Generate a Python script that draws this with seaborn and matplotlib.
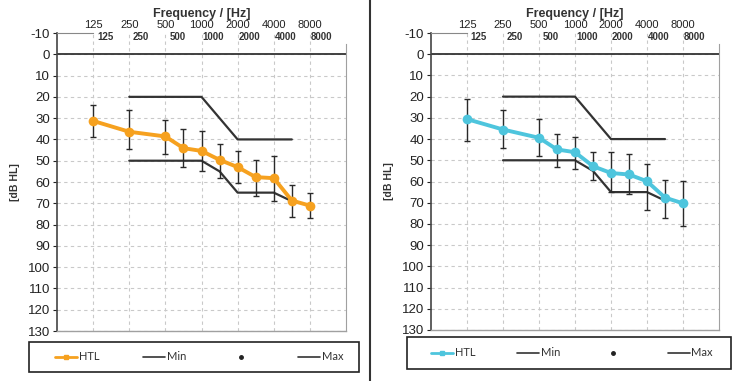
import numpy as np
import pandas as pd
import matplotlib
matplotlib.use("Agg")
import matplotlib.pyplot as plt
import seaborn as sns
from matplotlib.lines import Line2D
from matplotlib.patches import Rectangle

# ---------------- data ----------------
freqs = [125, 250, 500, 750, 1000, 1500, 2000, 3000, 4000, 6000, 8000]

htl_left = [31.3, 36.4, 38.6, 44.1, 45.4, 49.6, 53.0, 57.7, 58.2, 68.7, 71.1]
lo_left = [24.0, 26.0, 31.0, 35.2, 36.0, 42.0, 45.5, 49.6, 48.0, 61.2, 65.0]
hi_left = [39.0, 44.7, 46.8, 53.0, 54.8, 57.9, 60.7, 66.8, 68.9, 76.6, 76.9]

htl_right = [30.6, 35.5, 39.4, 44.9, 46.2, 52.8, 56.0, 56.7, 59.9, 67.6, 70.3]
lo_right = [21.0, 26.5, 30.5, 37.4, 39.0, 46.0, 46.0, 47.1, 51.7, 59.1, 59.7]
hi_right = [40.7, 44.3, 47.8, 53.1, 54.0, 59.4, 65.0, 65.7, 73.5, 77.2, 81.1]

min_freqs = [250, 500, 1000, 2000, 3000, 4000, 6000]
min_vals = [20, 20, 20, 40, 40, 40, 40]
max_freqs = [250, 500, 750, 1000, 1500, 2000, 3000, 4000, 6000]
max_vals = [50, 50, 50, 50, 55, 65, 65, 65, 69]

octave_ticks = [125, 250, 500, 1000, 2000, 4000, 8000]
y_ticks = list(range(-10, 131, 10))
legend_labels = ["HTL", "Min", "", "Max"]

ORANGE = "#F6A11F"
CYAN = "#4EC5DD"
DARK = "#333333"


def audio_pos(f):
    o = np.log2(np.asarray(f, float) / 125.0)
    r = np.round(o)
    return np.where(np.isclose(o, r), r, np.floor(o) + 0.5)


sns.set_style("white")
plt.rcParams["font.family"] = ["Liberation Sans", "DejaVu Sans"]

W, H = 740.0, 381.0
fig = plt.figure(figsize=(7.40, 3.81), dpi=100)


def panel(rect, htl, lo, hi, color, box_px, leg_px):
    ax = fig.add_axes(rect)
    x = audio_pos(freqs)
    htl = np.asarray(htl)
    lo = np.asarray(lo)
    hi = np.asarray(hi)

    df = pd.DataFrame({"x": x, "htl": htl})
    dmin = pd.DataFrame({"x": audio_pos(min_freqs), "v": min_vals})
    dmax = pd.DataFrame({"x": audio_pos(max_freqs), "v": max_vals})

    sns.lineplot(data=dmin, x="x", y="v", color=DARK, lw=1.6, ax=ax, zorder=2)
    sns.lineplot(data=dmax, x="x", y="v", color=DARK, lw=1.6, ax=ax, zorder=2)
    ax.errorbar(x, htl, yerr=[htl - lo, hi - htl], fmt="none", ecolor="#2a2a2a",
                elinewidth=1.0, capsize=2.5, capthick=1.0, zorder=3)
    sns.lineplot(data=df, x="x", y="htl", color=color, lw=2.8, marker="o",
                 markersize=7, markeredgewidth=0, ax=ax, zorder=4)

    ax.set_xlim(-1, 7)
    ax.set_ylim(130, -10)
    ax.set_yticks(y_ticks)
    ax.set_yticklabels([str(v) for v in y_ticks])
    tick_pos = audio_pos(octave_ticks)
    ax.set_xticks(tick_pos)
    ax.set_xticklabels([str(f) for f in octave_ticks])
    ax.tick_params(axis="x", top=True, labeltop=True, bottom=False,
                   labelbottom=False, length=0, pad=2, labelsize=8, colors="#222")
    ax.tick_params(axis="y", left=True, length=3, width=0.8, pad=2,
                   labelsize=9.5, colors="#222")
    ax.xaxis.set_label_position("top")
    ax.set_xlabel("Frequency / [Hz]", fontweight="bold", fontsize=9, labelpad=2,
                  color="#333")
    ax.set_ylabel("[dB HL]", fontweight="bold", fontsize=7.5, color="#333")
    ax.yaxis.set_label_coords(-0.128, 0.5)

    ax.grid(True, ls=(0, (3, 3)), color="#c9c9c9", lw=0.8)
    ax.get_ygridlines()[0].set_visible(False)
    ax.set_axisbelow(True)
    ax.axhline(0, color=DARK, lw=1.3, zorder=1.5)

    for s in ["left", "bottom", "right", "top"]:
        ax.spines[s].set_visible(True)
    ax.spines["left"].set_color("#444")
    ax.spines["left"].set_linewidth(1.2)
    ax.spines["bottom"].set_color("#a0a0a0")
    ax.spines["bottom"].set_linewidth(1.0)
    ax.spines["right"].set_color("#a0a0a0")
    ax.spines["right"].set_bounds(-5, 130)
    ax.spines["top"].set_color("#888")
    ax.spines["top"].set_bounds(-1, 0)

    for f, p in zip(octave_ticks, tick_pos):
        ax.text(p + 0.33, -8, str(f), fontsize=7, fontweight="bold",
                color="#333", ha="center", va="center")

    # legend frame
    bx0, by0, bx1, by1 = box_px
    fig.add_artist(Rectangle((bx0 / W, 1 - by1 / H), (bx1 - bx0) / W, (by1 - by0) / H,
                             transform=fig.transFigure, fill=False,
                             edgecolor="#222", lw=1.2))
    handles = [
        Line2D([], [], color=color, lw=2, marker="s", ms=3),
        Line2D([], [], color=DARK, lw=1.2),
        Line2D([], [], color="#222", ls="none", marker="o", ms=2.5),
        Line2D([], [], color=DARK, lw=1.2),
    ]
    lx0, lx1 = leg_px
    ax.legend(handles, legend_labels, loc="center",
              bbox_to_anchor=(lx0 / W, 1 - by1 / H, (lx1 - lx0) / W, (by1 - by0) / H),
              bbox_transform=fig.transFigure, ncol=4, mode="expand",
              frameon=False, borderaxespad=0, borderpad=0,
              handlelength=2.0, handletextpad=0.15,
              labelcolor="#333",
              prop={"family": ["Lato", "DejaVu Sans"], "size": 8})
    return ax


panel([57 / W, 1 - 331 / H, 289 / W, 298 / H], htl_left, lo_left, hi_left,
      ORANGE, (29, 342, 359, 372), (55, 343))
panel([431 / W, 1 - 330 / H, 288 / W, 297 / H], htl_right, lo_right, hi_right,
      CYAN, (407, 337, 731, 369), (431, 713))

fig.add_artist(Line2D([370 / W, 370 / W], [0, 1], color=DARK, lw=1.5,
                      transform=fig.transFigure))

fig.savefig("out.png", dpi=100)
